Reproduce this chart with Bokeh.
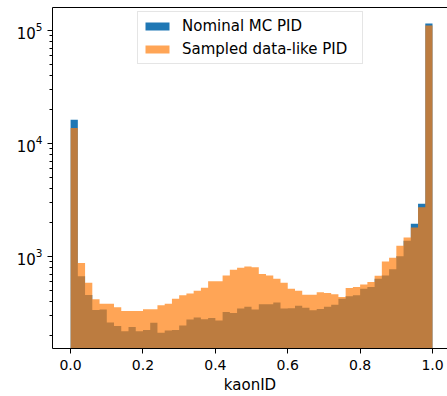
import numpy as np
from bokeh.plotting import figure
from bokeh.models import (ColumnDataSource, Range1d, FixedTicker, PrintfTickFormatter,
                          LinearAxis, Legend, LegendItem)
from bokeh.embed import file_html
from bokeh.resources import INLINE

# 50 bins of width 0.02 on [0, 1]
bin_edges = [round(i * 0.02, 2) for i in range(51)]

nominal_mc = [16260, 670, 458, 338, 340, 261, 243, 219, 239, 219,
              224, 260, 212, 222, 224, 246, 278, 289, 280, 287,
              272, 324, 317, 347, 361, 340, 380, 380, 393, 347,
              350, 368, 354, 336, 345, 361, 376, 425, 447, 456,
              520, 538, 637, 681, 772, 1010, 1383, 1955, 2931, 115250]

sampled_data_like = [13740, 880, 587, 420, 384, 384, 357, 331, 331, 331,
                     343, 343, 372, 384, 425, 456, 472, 499, 530, 605,
                     605, 681, 764, 796, 817, 807, 704, 681, 637, 587,
                     520, 499, 460, 460, 484, 477, 465, 440, 528, 539,
                     567, 597, 677, 904, 980, 1249, 1481, 1814, 2735, 110700]

x_ticks = [0.0, 0.2, 0.4, 0.6, 0.8, 1.0]
series_names = ["Nominal MC PID", "Sampled data-like PID"]
x_label = "kaonID"

FONT = "DejaVu Sans"

p = figure(width=447, height=396, output_backend="svg", toolbar_location=None,
           y_axis_type="log",
           x_range=Range1d(-0.05, 1.0414), y_range=Range1d(154, 160000),
           min_border_left=52, min_border_right=0, min_border_top=7,
           min_border_bottom=46)
p.outline_line_color = None
p.background_fill_color = "white"
p.border_fill_color = "white"
p.xgrid.visible = False
p.ygrid.visible = False

# histogram bars drawn as stepped filled areas (no seams between adjacent bars)
src_a = ColumnDataSource(dict(x=bin_edges, top=nominal_mc + [nominal_mc[-1]],
                              bottom=[1] * len(bin_edges)))
src_b = ColumnDataSource(dict(x=bin_edges, top=sampled_data_like + [sampled_data_like[-1]],
                              bottom=[1] * len(bin_edges)))

r_a = p.varea_step(x="x", y1="bottom", y2="top", step_mode="after", source=src_a,
                   fill_color="#1f77b4")
r_b = p.varea_step(x="x", y1="bottom", y2="top", step_mode="after", source=src_b,
                   fill_color="#ff7f0e", fill_alpha=0.7)

# top spine
top_axis = LinearAxis(ticker=FixedTicker(ticks=[]),
                      major_tick_line_color=None, minor_tick_line_color=None,
                      major_tick_out=0, minor_tick_out=0, major_tick_in=0, minor_tick_in=0,
                      major_label_text_font_size="0px", major_label_standoff=0,
                      axis_line_color="black", axis_line_width=1)
p.add_layout(top_axis, "above")

xa = p.below[0]
ya = p.left[0]
xa.ticker = FixedTicker(ticks=x_ticks)
xa.formatter = PrintfTickFormatter(format="%.1f")
xa.axis_label = x_label
for ax in [xa, ya]:
    ax.axis_line_color = "black"
    ax.major_tick_line_color = "black"
    ax.minor_tick_line_color = "black"
    ax.major_tick_in = 0
    ax.major_tick_out = 5
    ax.minor_tick_in = 0
    ax.minor_tick_out = 3
    ax.major_label_text_font = FONT
    ax.major_label_text_font_size = "14px"
    ax.major_label_text_color = "black"
    ax.axis_label_text_font = FONT
    ax.axis_label_text_font_size = "15px"
    ax.axis_label_text_font_style = "normal"
    ax.axis_label_text_color = "black"
ya.major_label_text_font_size = "15px"
xa.major_label_standoff = 6
xa.axis_label_standoff = 3
ya.major_label_standoff = 5

legend = Legend(items=[LegendItem(label=series_names[0], renderers=[r_a]),
                       LegendItem(label=series_names[1], renderers=[r_b])],
                location=(85, 284))
legend.label_text_font = FONT
legend.label_text_font_size = "15px"
legend.label_text_color = "black"
legend.glyph_width = 30
legend.glyph_height = 10
legend.label_height = 20
legend.label_width = 176
legend.spacing = 3
legend.padding = 4
legend.label_standoff = 10
legend.border_line_color = "#cccccc"
legend.border_line_width = 1
legend.background_fill_alpha = 0.8
legend.margin = 0
p.add_layout(legend, "center")

open("out.html", "w").write(file_html(p, INLINE))
